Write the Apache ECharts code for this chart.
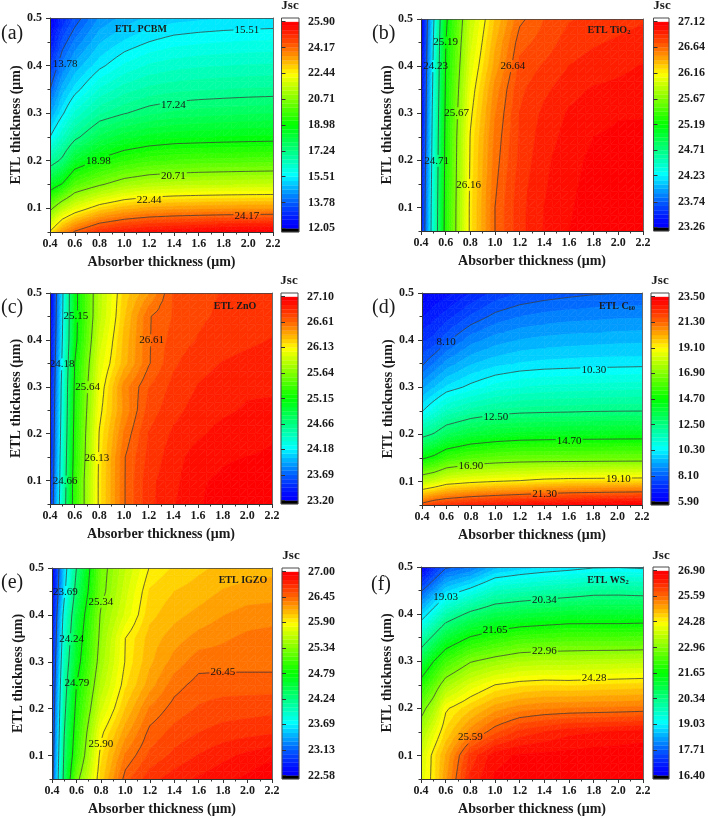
<!DOCTYPE html>
<html><head><meta charset="utf-8">
<style>html,body{margin:0;padding:0;background:#fff}#c{width:708px;height:819px}</style>
<script src="https://cdn.jsdelivr.net/npm/echarts@6/dist/echarts.min.js"></script>
</head><body><div id="c"></div>
<script>
// ---- data ----
const absorberThickness = [0.4,0.5,0.6,0.8,1.0,1.2,1.4,1.6,1.8,2.0,2.2];
const etlThickness = [0.05,0.1,0.15,0.2,0.25,0.3,0.35,0.4,0.45,0.5];
const yTicks = [0.1,0.2,0.3,0.4,0.5];
const yMinorTicks = [0.05,0.15,0.25,0.35,0.45];

// each inner array: one absorber thickness, from ETL 0.05 to ETL 0.5
const jscPCBM = [
 [22.5,20.49,18.46,16.84,15.51,14.64,13.77,13.2,12.62,12.05],
 [23.6,21.45,19.05,17.4,16.36,15.42,14.79,14.15,13.58,13.0],
 [24.25,22.0,20.02,18.4,17.06,16.15,15.33,14.74,14.14,13.55],
 [25.0,22.77,20.62,19.1,17.9,16.9,16.13,15.4,14.9,14.4],
 [25.3,23.19,21.11,19.52,18.28,17.21,16.53,15.85,15.26,14.75],
 [25.5,23.39,21.36,19.76,18.5,17.45,16.75,16.13,15.51,15.0],
 [25.6,23.48,21.46,19.87,18.62,17.6,16.86,16.26,15.67,15.1],
 [25.7,23.52,21.52,19.93,18.66,17.67,16.91,16.33,15.74,15.16],
 [25.8,23.55,21.56,19.96,18.7,17.72,16.95,16.37,15.79,15.2],
 [25.85,23.57,21.59,19.99,18.73,17.77,16.98,16.4,15.82,15.23],
 [25.9,23.58,21.61,20.02,18.75,17.81,17.0,16.42,15.84,15.25]];
const jscTiO2 = [
 [23.44,23.42,23.40,23.38,23.36,23.34,23.32,23.30,23.28,23.26],
 [24.41,24.40,24.38,24.36,24.34,24.32,24.29,24.26,24.23,24.18],
 [25.30,25.29,25.28,25.27,25.26,25.24,25.22,25.20,25.18,25.14],
 [26.20,26.20,26.19,26.18,26.17,26.13,26.08,26.02,25.96,25.91],
 [26.64,26.64,26.62,26.60,26.58,26.55,26.51,26.43,26.38,26.32],
 [26.85,26.85,26.84,26.82,26.81,26.80,26.78,26.74,26.69,26.615],
 [26.965,26.96,26.95,26.94,26.92,26.90,26.86,26.81,26.75,26.72],
 [27.04,27.03,27.02,27.01,26.99,26.97,26.93,26.88,26.84,26.79],
 [27.08,27.08,27.07,27.06,27.04,27.00,26.97,26.91,26.87,26.83],
 [27.11,27.10,27.09,27.08,27.06,27.03,26.98,26.94,26.89,26.85],
 [27.12,27.12,27.11,27.09,27.07,27.03,26.99,26.965,26.91,26.87]];
const jscZnO = [
 [23.42,23.40,23.38,23.36,23.34,23.32,23.29,23.26,23.23,23.20],
 [24.42,24.38,24.36,24.32,24.29,24.27,24.22,24.18,24.15,24.13],
 [25.31,25.31,25.26,25.24,25.21,25.19,25.15,25.07,25.06,25.06],
 [26.17,26.17,26.16,26.14,26.09,26.04,25.98,25.91,25.84,25.83],
 [26.60,26.60,26.60,26.54,26.47,26.49,26.33,26.31,26.27,26.24],
 [26.83,26.83,26.80,26.78,26.73,26.69,26.60,26.60,26.60,26.44],
 [26.93,26.91,26.90,26.87,26.83,26.80,26.76,26.73,26.70,26.70],
 [27.01,27.01,26.98,26.92,26.89,26.86,26.83,26.78,26.76,26.75],
 [27.05,27.03,27.01,26.97,26.92,26.89,26.86,26.82,26.79,26.78],
 [27.08,27.05,27.02,26.98,26.95,26.92,26.88,26.84,26.81,26.79],
 [27.10,27.06,27.03,27.01,26.96,26.92,26.89,26.86,26.83,26.81]];
const jscC60 = [
 [21.6,17.79,14.55,12.19,10.25,9.11,8.0,7.3,6.6,5.9],
 [22.1,18.13,14.95,12.59,10.85,9.57,8.51,7.5,6.9,6.35],
 [22.3,18.65,15.6,13.2,11.43,10.01,8.99,8.0,7.2,6.5],
 [22.6,18.93,16.1,13.72,11.91,10.45,9.53,8.67,7.8,7.0],
 [22.8,19.1,16.29,13.98,12.2,10.82,9.81,9.02,8.23,7.5],
 [23.0,19.2,16.41,14.13,12.32,11.02,9.97,9.22,8.47,7.73],
 [23.1,19.4,16.42,14.18,12.37,11.12,10.05,9.32,8.6,7.87],
 [23.25,19.48,16.43,14.22,12.4,11.17,10.09,9.38,8.68,7.97],
 [23.35,19.5,16.45,14.24,12.45,11.2,10.12,9.42,8.72,8.05],
 [23.43,19.53,16.47,14.26,12.47,11.24,10.14,9.46,8.77,8.09],
 [23.5,19.56,16.48,14.27,12.48,11.27,10.16,9.48,8.79,8.1]];
const jscIGZO = [
 [23.0,22.95,22.9,22.86,22.82,22.78,22.72,22.68,22.62,22.58],
 [24.36,24.30,24.23,24.16,24.09,23.99,23.9,23.81,23.62,23.54],
 [25.25,25.03,24.95,24.87,24.79,24.66,24.59,24.5,24.36,24.24],
 [26.02,25.96,25.86,25.68,25.55,25.46,25.41,25.37,25.26,25.24],
 [26.50,26.37,26.22,26.08,25.97,25.91,25.90,25.73,25.67,25.61],
 [26.69,26.56,26.48,26.37,26.22,26.15,26.12,26.05,26.0,25.91],
 [26.77,26.66,26.57,26.49,26.41,26.30,26.22,26.14,26.08,26.0],
 [26.83,26.73,26.63,26.55,26.49,26.41,26.3,26.2,26.12,26.06],
 [26.88,26.79,26.67,26.58,26.50,26.41,26.34,26.26,26.18,26.1],
 [26.93,26.84,26.69,26.59,26.50,26.41,26.38,26.3,26.21,26.12],
 [27.0,26.88,26.71,26.60,26.50,26.41,26.40,26.31,26.22,26.14]];
const jscWS2 = [
 [23.9,23.75,23.3,22.73,21.92,20.95,19.85,18.71,17.65,16.4],
 [24.39,24.39,23.93,23.31,22.55,21.63,20.46,19.31,18.19,17.1],
 [25.09,24.95,24.53,24.22,23.27,22.24,21.1,19.9,18.73,17.64],
 [26.3,26.1,25.26,24.65,23.89,22.91,21.7,20.49,19.16,17.9],
 [26.72,26.6,25.75,25.05,24.28,23.18,21.99,20.84,19.67,18.48],
 [26.8,26.72,26.1,25.26,24.43,23.38,22.21,20.98,19.8,18.66],
 [26.82,26.75,26.25,25.35,24.49,23.44,22.28,21.08,19.91,18.78],
 [26.85,26.77,26.4,25.38,24.47,23.44,22.34,21.17,20.0,18.87],
 [26.87,26.8,26.45,25.4,24.5,23.48,22.34,21.18,20.13,18.98],
 [26.88,26.82,26.5,25.42,24.53,23.5,22.34,21.18,20.14,19.0],
 [26.9,26.84,26.55,25.45,24.56,23.52,22.36,21.21,20.09,18.95]];

const ticksPCBM = [12.05,13.78,15.51,17.24,18.98,20.71,22.44,24.17,25.90];
const ticksTiO2 = [23.26,23.74,24.23,24.71,25.19,25.67,26.16,26.64,27.12];
const ticksZnO  = [23.20,23.69,24.18,24.66,25.15,25.64,26.13,26.61,27.10];
const ticksC60  = [5.90,8.10,10.30,12.50,14.70,16.90,19.10,21.30,23.50];
const ticksIGZO = [22.58,23.13,23.69,24.24,24.79,25.34,25.90,26.45,27.00];
const ticksWS2  = [16.40,17.71,19.03,20.34,21.65,22.96,24.28,25.59,26.90];

// ---- where each contour's label sits, in axis units ----
const labelsPCBM = [[1,0.523,0.403],[2,1.99,0.474],[3,1.395,0.316],[4,0.79,0.199],[5,1.395,0.167],[6,1.2,0.118],[7,1.99,0.084]];
const labelsTiO2 = [[2,0.519,0.4],[3,0.527,0.199],[4,0.6,0.45],[5,0.689,0.3],[6,0.786,0.148],[7,1.145,0.4]];
const labelsZnO  = [[2,0.498,0.348],[3,0.522,0.098],[4,0.609,0.45],[5,0.706,0.299],[6,0.78,0.148],[7,1.224,0.399]];
const labelsC60  = [[1,0.598,0.395],[2,1.806,0.336],[3,1.004,0.237],[4,1.604,0.186],[5,0.8,0.133],[6,2.007,0.105],[7,1.403,0.074]];
const labelsIGZO = [[2,0.509,0.449],[3,0.561,0.348],[4,0.604,0.254],[5,0.8,0.428],[6,0.8,0.125],[7,1.798,0.277]];
const labelsWS2  = [[2,0.6,0.436],[3,1.4,0.429],[4,1.002,0.365],[5,1.4,0.322],[6,1.804,0.264],[7,0.801,0.138]];

// ---- layout and styles ----
const SERIF = '"Liberation Serif","Times New Roman",serif';
const INK = '#1a1a1a';
const panels = [
 {z:jscPCBM,t:ticksPCBM,l:labelsPCBM,plot:[50,18,223,214],bar:[281.5,18,17.5,214],tag:'(a)',tagXY:[1,34],etl:'ETL PCBM',etlXY:[141,29],jscXY:[290,6]},
 {z:jscTiO2,t:ticksTiO2,l:labelsTiO2,plot:[421,19,222,212],bar:[653.5,18,17.5,213],tag:'(b)',tagXY:[372,34],etl:'{n|ETL TiO}{s|2}',etlXY:[609,30],jscXY:[662,6]},
 {z:jscZnO, t:ticksZnO, l:labelsZnO, plot:[50,293,222,211],bar:[281,293,17,211],tag:'(c)',tagXY:[1,308],etl:'ETL ZnO',etlXY:[235,306],jscXY:[289,281]},
 {z:jscC60, t:ticksC60, l:labelsC60, plot:[422,293,220,212],bar:[651,293,18,212],tag:'(d)',tagXY:[372,308],etl:'{n|ETL C}{s|60}',etlXY:[617,306],jscXY:[660,281]},
 {z:jscIGZO,t:ticksIGZO,l:labelsIGZO,plot:[52,568,220,211],bar:[282,568,17,211],tag:'(e)',tagXY:[1,583],etl:'ETL IGZO',etlXY:[243,580],jscXY:[291,556]},
 {z:jscWS2, t:ticksWS2, l:labelsWS2, plot:[421,567,222,212],bar:[653,567,18,212],tag:'(f)',tagXY:[371,585],etl:'{n|ETL WS}{s|2}',etlXY:[608,580],jscXY:[661,556]}
];
const SUBS = 6;      // colour bands per labelled interval
const MESH = 3;      // contour mesh divisions per data cell

function rainbow(t){
  const p=Math.min(Math.max(t,0),1)*4, i=Math.min(Math.floor(p),3), f=p-i;
  let c;
  if(i===0)c=[0,255*Math.pow(f,1.3),255];
  else if(i===1)c=[0,255,255*(1-f)];
  else if(i===2)c=[255*f,255,0];
  else c=[255,255*Math.pow(1-f,1.2),0];
  return `rgb(${Math.round(c[0])},${Math.round(c[1])},${Math.round(c[2])})`;
}
// Each data cell is contoured on a small bilinear mesh, as a list of triangles.
function cellMesh(z){
  const cells=[];
  for(let i=0;i<absorberThickness.length-1;i++)for(let j=0;j<etlThickness.length-1;j++){
    const x0=absorberThickness[i],x1=absorberThickness[i+1],y0=etlThickness[j],y1=etlThickness[j+1];
    const at=(a,b)=>{
      const u=a/MESH,v=b/MESH;
      return [x0+(x1-x0)*u,y0+(y1-y0)*v,
        z[i][j]*(1-u)*(1-v)+z[i+1][j]*u*(1-v)+z[i+1][j+1]*u*v+z[i][j+1]*(1-u)*v];
    };
    const tris=[];
    for(let a=0;a<MESH;a++)for(let b=0;b<MESH;b++){
      const A=at(a,b),B=at(a+1,b),C=at(a+1,b+1),D=at(a,b+1);
      if(Math.abs(A[2]-C[2])<=Math.abs(B[2]-D[2])){tris.push([A,B,C],[A,C,D]);}
      else{tris.push([A,B,D],[B,C,D]);}
    }
    cells.push({cx:(x0+x1)/2,cy:(y0+y1)/2,tris});
  }
  return cells;
}
function clipZ(poly,level,keepAbove){
  const r=[];
  for(let i=0;i<poly.length;i++){
    const a=poly[i],b=poly[(i+1)%poly.length];
    const ina=keepAbove?a[2]>=level:a[2]<=level, inb=keepAbove?b[2]>=level:b[2]<=level;
    if(ina)r.push(a);
    if(ina!==inb){const t=(level-a[2])/(b[2]-a[2]);r.push([a[0]+(b[0]-a[0])*t,a[1]+(b[1]-a[1])*t,level]);}
  }
  return r;
}
function cutBox(p,q,cx,cy,hw,hh){
  let t0=0,t1=1;const dx=q[0]-p[0],dy=q[1]-p[1];
  const tests=[[-dx,p[0]-(cx-hw)],[dx,(cx+hw)-p[0]],[-dy,p[1]-(cy-hh)],[dy,(cy+hh)-p[1]]];
  for(const [a,b] of tests){
    if(a===0){if(b<0)return [[p,q]];continue;}
    const t=b/a;
    if(a<0){if(t>t0)t0=t;}else{if(t<t1)t1=t;}
  }
  if(t0>=t1)return [[p,q]];
  const at=t=>[p[0]+dx*t,p[1]+dy*t], parts=[];
  if(t0>0)parts.push([p,at(t0)]);
  if(t1<1)parts.push([at(t1),q]);
  return parts;
}

const option={animation:false,backgroundColor:'#fff',grid:[],xAxis:[],yAxis:[],series:[],graphic:{elements:[]}};
const tickStyle={color:INK,fontFamily:SERIF,fontWeight:'bold',fontSize:12};
const lineStyle={color:'#333',width:1};

panels.forEach((P,n)=>{
  const g=n*2, gb=n*2+1, xi=n*3, yi=n*4;
  const [px,py,pw,ph]=P.plot, [bx,by,bw,bh]=P.bar;
  option.grid.push({left:px,top:py,width:pw,height:ph,containLabel:false},{left:bx,top:by,width:bw,height:bh,containLabel:false});
  option.xAxis.push(
   {type:'value',gridIndex:g,min:0.4,max:2.2,interval:0.2,z:5,position:'bottom',
    name:'Absorber thickness (μm)',nameLocation:'middle',nameGap:23,
    nameTextStyle:{color:INK,fontFamily:SERIF,fontWeight:'bold',fontSize:14},
    axisLine:{onZero:false,lineStyle},axisTick:{length:4,lineStyle},
    minorTick:{show:true,splitNumber:2,length:2.5,lineStyle},splitLine:{show:false},
    axisLabel:{...tickStyle,margin:6,showMinLabel:true,showMaxLabel:true,formatter:v=>v.toFixed(1)}},
   {type:'value',gridIndex:g,min:0.4,max:2.2,position:'top',z:5,axisLine:{onZero:false,lineStyle:{color:'#444',width:0.8}},axisTick:{show:false},axisLabel:{show:false},splitLine:{show:false}},
   {type:'value',gridIndex:gb,min:0,max:1,show:false}
  );
  const step=(P.t[8]-P.t[0])/8, pad=step*0.14;
  option.yAxis.push(
   {type:'value',gridIndex:g,min:0.05,max:0.5,position:'left',z:5,
    name:'ETL thickness (μm)',nameLocation:'middle',nameGap:26,
    nameTextStyle:{color:INK,fontFamily:SERIF,fontWeight:'bold',fontSize:14},
    axisLine:{onZero:false,lineStyle},axisTick:{length:4,lineStyle,customValues:yTicks},splitLine:{show:false},
    axisLabel:{...tickStyle,margin:8,customValues:yTicks,formatter:v=>v.toFixed(1)}},
   {type:'value',gridIndex:g,min:0.05,max:0.5,position:'left',z:5,axisLine:{show:false},
    axisTick:{length:2.5,lineStyle,customValues:yMinorTicks},axisLabel:{show:false},splitLine:{show:false}},
   {type:'value',gridIndex:g,min:0.05,max:0.5,position:'right',z:5,axisLine:{onZero:false,lineStyle:{color:'#444',width:0.8}},axisTick:{show:false},axisLabel:{show:false},splitLine:{show:false}},
   {type:'value',gridIndex:gb,min:P.t[0]-pad,max:P.t[8]+pad,position:'right',z:5,
    axisLine:{show:false},axisTick:{length:4,lineStyle,customValues:P.t},splitLine:{show:false},
    axisLabel:{...tickStyle,margin:9,customValues:P.t,formatter:v=>v.toFixed(2)}}
  );

  const cells=cellMesh(P.z);
  const cellData=cells.map((c,i)=>[c.cx,c.cy,i]);
  const lo=P.t[0], hi=P.t[8], nb=8*SUBS, db=(hi-lo)/nb;

  // filled contour bands
  option.series.push({type:'custom',xAxisIndex:xi,yAxisIndex:yi,coordinateSystem:'cartesian2d',silent:true,clip:true,z:2,
    data:cellData,encode:{x:0,y:1},
    renderItem(params,api){
      const kids=[];
      for(const T of cells[api.value(2)].tris){
        const zs=T.map(v=>v[2]);
        const k0=Math.max(0,Math.floor((Math.min(...zs)-lo)/db)-1), k1=Math.min(nb-1,Math.floor((Math.max(...zs)-lo)/db)+1);
        for(let k=k0;k<=k1;k++){
          const a=k===0?-1e9:lo+k*db, b=k===nb-1?1e9:lo+(k+1)*db;
          let poly=clipZ(T,a,true); if(poly.length<3)continue;
          poly=clipZ(poly,b,false); if(poly.length<3)continue;
          const col=rainbow(k/(nb-1));
          kids.push({type:'polygon',shape:{points:poly.map(v=>api.coord([v[0],v[1]]))},style:{fill:col,stroke:col,lineWidth:0.6}});
        }
      }
      return {type:'group',children:kids};
    }});

  // contour lines, broken where their label sits
  option.series.push({type:'custom',xAxisIndex:xi,yAxisIndex:yi,coordinateSystem:'cartesian2d',silent:true,clip:true,z:3,
    data:cellData,encode:{x:0,y:1},
    renderItem(params,api){
      const kids=[];
      for(const T of cells[api.value(2)].tris){
        for(let m=1;m<8;m++){
          const L=P.t[m], pts=[];
          for(let i=0;i<3;i++){
            const a=T[i],b=T[(i+1)%3];
            if((a[2]<L)!==(b[2]<L)){const t=(L-a[2])/(b[2]-a[2]);pts.push(api.coord([a[0]+(b[0]-a[0])*t,a[1]+(b[1]-a[1])*t]));}
          }
          if(pts.length!==2)continue;
          let parts=[[pts[0],pts[1]]];
          const lab=P.l.find(e=>e[0]===m);
          if(lab){
            const c=api.coord([lab[1],lab[2]]);
            parts=cutBox(pts[0],pts[1],c[0],c[1],13.5,6);
          }
          parts.forEach(s=>kids.push({type:'line',shape:{x1:s[0][0],y1:s[0][1],x2:s[1][0],y2:s[1][1]},style:{stroke:'#3a3a3a',lineWidth:0.75}}));
        }
      }
      return {type:'group',children:kids};
    }});

  // contour labels
  option.series.push({type:'custom',xAxisIndex:xi,yAxisIndex:yi,coordinateSystem:'cartesian2d',silent:true,clip:false,z:4,
    data:P.l.map(e=>[e[1],e[2],e[0]]),encode:{x:0,y:1},
    renderItem(params,api){
      const c=api.coord([api.value(0),api.value(1)]);
      return {type:'text',x:c[0],y:c[1],style:{text:P.t[api.value(2)].toFixed(2),fill:'#151515',font:`11px ${SERIF}`,align:'center',verticalAlign:'middle'}};
    }});

  // colour bar
  const barItems=[];
  for(let k=-1;k<=nb+1;k++)barItems.push(k);
  option.series.push({type:'custom',xAxisIndex:xi+2,yAxisIndex:yi+3,coordinateSystem:'cartesian2d',silent:true,clip:false,z:3,
    data:barItems.map(k=>[0.5,lo+(k+0.5)*db,k]),encode:{x:0,y:1},
    renderItem(params,api){
      const k=api.value(2), amin=lo-pad, amax=hi+pad;
      if(k===nb+1){
        const a=api.coord([0,amin]),b=api.coord([1,amax]);
        return {type:'rect',shape:{x:a[0],y:b[1],width:b[0]-a[0],height:a[1]-b[1]},style:{fill:'none',stroke:'#4a4a4a',lineWidth:1}};
      }
      const y0=k===-1?amin:(k===nb?hi:lo+k*db), y1=k===-1?lo:(k===nb?amax:lo+(k+1)*db);
      const a=api.coord([0,y0]),b=api.coord([1,y1]);
      const col=k===-1?'#000':(k===nb?'#fff':rainbow(k/(nb-1)));
      return {type:'rect',shape:{x:a[0],y:b[1],width:b[0]-a[0],height:a[1]-b[1]},style:{fill:col,stroke:col,lineWidth:0.3}};
    }});

  // panel texts
  option.graphic.elements.push(
   {type:'text',x:P.tagXY[0],y:P.tagXY[1],z:10,style:{text:P.tag,fill:INK,font:`20px ${SERIF}`,align:'left',verticalAlign:'middle'}},
   {type:'text',x:P.etlXY[0],y:P.etlXY[1],z:10,style:{text:P.etl,fill:INK,font:`bold 10px ${SERIF}`,align:'center',verticalAlign:'middle',
     rich:{n:{font:`bold 10px ${SERIF}`,fill:INK},s:{font:`bold 6.5px ${SERIF}`,fill:INK,padding:[5,0,0,0]}}}},
   {type:'text',x:P.jscXY[0],y:P.jscXY[1],z:10,style:{text:'Jsc',fill:INK,font:`bold 13px ${SERIF}`,align:'center',verticalAlign:'middle'}}
  );
});

echarts.init(document.getElementById('c'),null,{renderer:'canvas'}).setOption(option);
</script></body></html>
